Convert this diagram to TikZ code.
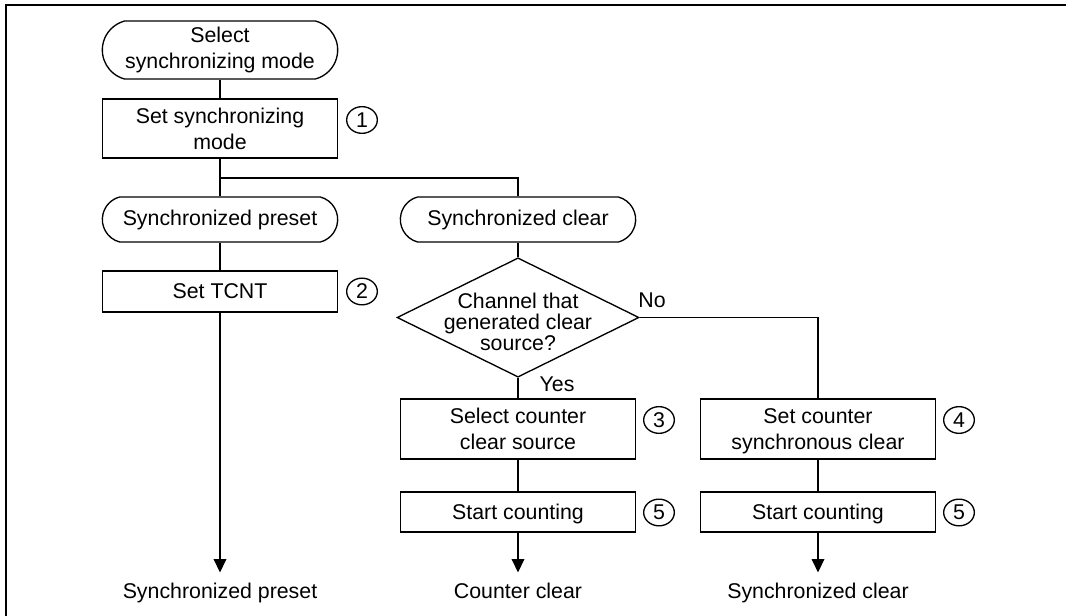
\documentclass[tikz,border=0pt]{standalone}
\usepackage{fontspec}
\setmainfont{Liberation Sans}
\usetikzlibrary{shapes.geometric,shapes.misc,arrows.meta}
\begin{document}
\begin{tikzpicture}[x=0.75pt,y=-0.75pt,
  every node/.style={font=\fontsize{16}{19.5}\selectfont},
  ln/.style={line width=1pt},
  term/.style={draw, ln, rounded rectangle, rounded rectangle arc length=150, minimum width=176.5pt, inner sep=0pt, align=center},
  proc/.style={draw, ln, rectangle, minimum width=176.5pt, inner sep=0pt, align=center, text depth=0pt},
  num/.style={draw, ln, ellipse, minimum width=23pt, minimum height=20pt, inner sep=0pt},
  dec/.style={draw, ln, diamond, minimum width=181.5pt, minimum height=89.5pt, inner sep=0pt},
  endlbl/.style={inner sep=0pt, inner ysep=7.4pt, anchor=base},
  arr/.style={ln, -{Triangle[length=10pt,width=9.5pt]}}
]
\useasboundingbox (0,0) rectangle (1066,616);
\draw[line width=1.7pt] (6,620) -- (6,5) -- (1070,5);

% column 1
\node[term, minimum height=43.5pt] (t1) at (220,50) {Select\\synchronizing mode};
\node[proc, minimum height=44.25pt] (b1) at (220,128.5) {Set synchronizing\\mode};
\node[num] (c1) at (362,120) {1};
\node[term, minimum height=33.75pt] (t2) at (220,219.5) {Synchronized preset};
\node[proc, minimum height=30.75pt] (b2) at (220,291.5) {Set TCNT};
\node[num] (c2) at (362,291.5) {2};
\node[endlbl] (e1) at (220,598) {Synchronized preset};

% column 2
\node[term, minimum height=33.75pt] (t3) at (518,219.5) {Synchronized clear};
\node[dec] (d) at (518,317.5) {};
\node[align=center, inner sep=0pt, font=\fontsize{16}{15.75}\selectfont] (dt) at (518,321.5) {Channel that\\generated clear\\source?};
\node[inner sep=0pt] (no) at (652,300) {No};
\node[inner sep=0pt] (yes) at (557,384) {Yes};
\node[proc, minimum height=45pt] (b3) at (518,429) {Select counter\\clear source};
\node[num] (c3) at (659,420) {3};
\node[proc, minimum height=30pt] (s1) at (518,512) {Start counting};
\node[num] (c5a) at (659,512.5) {5};
\node[endlbl] (e2) at (518,598) {Counter clear};

% column 3
\node[proc, minimum height=45pt] (b4) at (818,429) {Set counter\\synchronous clear};
\node[num] (c4) at (959,420) {4};
\node[proc, minimum height=30pt] (s2) at (818,512) {Start counting};
\node[num] (c5b) at (959,512.5) {5};
\node[endlbl] (e3) at (818,598) {Synchronized clear};

\coordinate (br) at (220,178);

% connectors
\draw[ln] (t1.south) -- (b1.north);
\draw[ln] (b1.south) -- (t2.north);
\draw[ln] (br) -| (t3.north);
\draw[ln] (t2.south) -- (b2.north);
\draw[arr] (b2.south) -- (e1.north);
\draw[ln] (t3.south) -- (d.north);
\draw[ln] (d.south) -- (b3.north);
\draw[ln] (d.east) -| (b4.north);
\draw[ln] (b3.south) -- (s1.north);
\draw[ln] (b4.south) -- (s2.north);
\draw[arr] (s1.south) -- (e2.north);
\draw[arr] (s2.south) -- (e3.north);
\end{tikzpicture}
\end{document}
